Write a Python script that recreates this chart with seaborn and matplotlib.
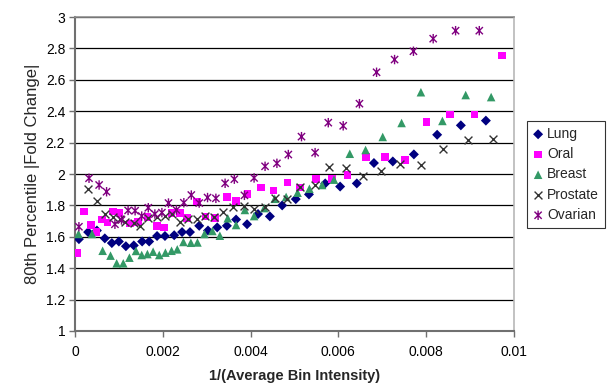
import numpy as np
import pandas as pd
import seaborn as sns
from matplotlib import pyplot as plt
from matplotlib.path import Path

# values (x = 1/(average bin intensity))
lung_x = [0.00009, 0.00030, 0.00050, 0.00068, 0.00084, 0.00100, 0.00116, 0.00134, 0.00153, 0.00169,
          0.00187, 0.00205, 0.00226, 0.00244, 0.00262, 0.00283, 0.00303, 0.00324, 0.00346, 0.00367,
          0.00392, 0.00417, 0.00444, 0.00472, 0.00503, 0.00533, 0.00570, 0.00604, 0.00642, 0.00681,
          0.00724, 0.00772, 0.00825, 0.00879, 0.00936]
lung_y = [1.585, 1.63, 1.64, 1.59, 1.56, 1.57, 1.54, 1.545, 1.57, 1.57,
          1.605, 1.605, 1.61, 1.63, 1.63, 1.67, 1.64, 1.66, 1.67, 1.71,
          1.68, 1.745, 1.73, 1.80, 1.84, 1.87, 1.94, 1.92, 1.94, 2.07,
          2.08, 2.125, 2.25, 2.31, 2.34]

oral_x = [0.00004, 0.00021, 0.00036, 0.00049, 0.00061, 0.00074, 0.00086, 0.00101, 0.00125, 0.00144,
          0.00165, 0.00187, 0.00203, 0.00220, 0.00239, 0.00255, 0.00278, 0.00297, 0.00319, 0.00346,
          0.00367, 0.00393, 0.00424, 0.00452, 0.00484, 0.00513, 0.00549, 0.00585, 0.00621, 0.00663,
          0.00706, 0.00752, 0.00801, 0.00854, 0.00910, 0.00973]
oral_y = [1.495, 1.76, 1.675, 1.632, 1.711, 1.69, 1.76, 1.75, 1.685, 1.696,
          1.728, 1.669, 1.66, 1.75, 1.75, 1.72, 1.824, 1.729, 1.72, 1.852,
          1.828, 1.873, 1.915, 1.894, 1.945, 1.913, 1.968, 1.968, 1.994, 2.11,
          2.11, 2.09, 2.33, 2.38, 2.38, 2.756]

breast_x = [0.00008, 0.00039, 0.00063, 0.00081, 0.00095, 0.00110, 0.00124, 0.00139, 0.00152, 0.00165,
            0.00178, 0.00192, 0.00206, 0.00220, 0.00233, 0.00247, 0.00264, 0.00279, 0.00295, 0.00313,
            0.00330, 0.00348, 0.00367, 0.00387, 0.00408, 0.00431, 0.00455, 0.00481, 0.00507, 0.00534,
            0.00563, 0.00590, 0.00626, 0.00662, 0.00701, 0.00744, 0.00788, 0.00837, 0.00890, 0.00948]
breast_y = [1.618, 1.618, 1.511, 1.48, 1.431, 1.431, 1.467, 1.51, 1.484, 1.49,
            1.505, 1.484, 1.499, 1.511, 1.52, 1.567, 1.562, 1.564, 1.618, 1.637,
            1.607, 1.718, 1.675, 1.771, 1.732, 1.783, 1.842, 1.854, 1.881, 1.906,
            1.93, 1.964, 2.129, 2.153, 2.236, 2.325, 2.521, 2.338, 2.503, 2.49]

prostate_x = [0.00030, 0.00051, 0.00068, 0.00087, 0.00103, 0.00115, 0.00134, 0.00149, 0.00167, 0.00186,
              0.00204, 0.00220, 0.00239, 0.00257, 0.00278, 0.00297, 0.00317, 0.00338, 0.00361, 0.00385,
              0.00408, 0.00432, 0.00456, 0.00483, 0.00513, 0.00547, 0.00579, 0.00617, 0.00655, 0.00696,
              0.00740, 0.00788, 0.00839, 0.00895, 0.00952]
prostate_y = [1.903, 1.83, 1.744, 1.724, 1.711, 1.694, 1.686, 1.666, 1.721, 1.729,
              1.731, 1.745, 1.696, 1.713, 1.712, 1.731, 1.726, 1.76, 1.792, 1.796,
              1.775, 1.792, 1.845, 1.839, 1.917, 1.93, 2.045, 2.04, 1.989, 2.021,
              2.064, 2.059, 2.158, 2.217, 2.222]

ovarian_x = [0.00009, 0.00032, 0.00055, 0.00072, 0.00091, 0.00106, 0.00121, 0.00137, 0.00152, 0.00167,
             0.00182, 0.00198, 0.00213, 0.00231, 0.00248, 0.00265, 0.00283, 0.00302, 0.00321, 0.00342,
             0.00363, 0.00386, 0.00408, 0.00433, 0.00460, 0.00486, 0.00516, 0.00547, 0.00577, 0.00611,
             0.00648, 0.00687, 0.00728, 0.00771, 0.00816, 0.00867, 0.00921]
ovarian_y = [1.664, 1.973, 1.93, 1.887, 1.68, 1.707, 1.768, 1.766, 1.732, 1.785,
             1.745, 1.754, 1.815, 1.771, 1.817, 1.866, 1.815, 1.85, 1.845, 1.941,
             1.967, 1.864, 1.975, 2.049, 2.068, 2.124, 2.238, 2.136, 2.327, 2.307,
             2.448, 2.648, 2.729, 2.782, 2.862, 2.913, 2.913]

x_ticks = [0, 0.002, 0.004, 0.006, 0.008, 0.01]
x_ticklabels = ["0", "0.002", "0.004", "0.006", "0.008", "0.01"]
y_ticks = [1, 1.2, 1.4, 1.6, 1.8, 2, 2.2, 2.4, 2.6, 2.8, 3]
y_ticklabels = ["1", "1.2", "1.4", "1.6", "1.8", "2", "2.2", "2.4", "2.6", "2.8", "3"]

sns.set_style("white")
plt.rcParams['font.family'] = ['Liberation Sans', 'DejaVu Sans']

# excel style star: an x with a vertical stroke
star = Path([(-1, -1), (1, 1), (-1, 1), (1, -1), (0, -1.3), (0, 1.3)],
            [Path.MOVETO, Path.LINETO, Path.MOVETO, Path.LINETO, Path.MOVETO, Path.LINETO])

fig = plt.figure(figsize=(6.11, 3.85), dpi=100)
ax = fig.add_axes([0.1227, 0.1403, 0.7185, 0.8155])

series = [
    ("Lung", lung_x, lung_y, "D", "#000080", 26),
    ("Oral", oral_x, oral_y, "s", "#ff00ff", 30),
    ("Breast", breast_x, breast_y, "^", "#339966", 38),
    ("Prostate", prostate_x, prostate_y, "x", "#333333", 32),
    ("Ovarian", ovarian_x, ovarian_y, star, "#800080", 46),
]

for name, xs, ys, mk, col, sz in series:
    df = pd.DataFrame({"x": xs, "y": ys})
    if mk in ("D", "s", "^"):
        sns.scatterplot(data=df, x="x", y="y", marker=mk, color=col, s=sz,
                        edgecolor="none", linewidth=0, ax=ax, label=name, zorder=3)
    elif mk == "x":
        sns.scatterplot(data=df, x="x", y="y", marker=mk, color=col, s=sz,
                        linewidth=1.0, ax=ax, label=name, zorder=3)
    else:
        sns.scatterplot(data=df, x="x", y="y", marker=mk, facecolor="none", edgecolor=col,
                        s=sz, linewidth=1.0, ax=ax, label=name, zorder=3)

ax.set_xlim(0, 0.01)
ax.set_ylim(1, 3)
ax.set_xticks(x_ticks)
ax.set_xticklabels(x_ticklabels)
ax.set_yticks(y_ticks)
ax.set_yticklabels(y_ticklabels)
ax.yaxis.grid(True, color="black", linewidth=0.9)
ax.xaxis.grid(False)
ax.set_axisbelow(True)

for side in ["left", "bottom"]:
    ax.spines[side].set_color("#707070")
    ax.spines[side].set_linewidth(1.5)
ax.spines["top"].set_color("#909090")
ax.spines["top"].set_linewidth(1.2)
ax.spines["right"].set_color("#b8b8b8")
ax.spines["right"].set_linewidth(1.2)

ax.tick_params(axis="both", direction="out", length=4, width=1, color="#707070",
               labelsize=10, labelcolor="black")
ax.tick_params(axis="x", pad=6, bottom=True)
ax.tick_params(axis="y", pad=3, left=True)

ax.set_xlabel("1/(Average Bin Intensity)", fontsize=10.5, fontweight="bold", labelpad=7)
ax.set_ylabel("80th Percentile |Fold Change|", fontsize=12, labelpad=4)

leg = ax.legend(loc="center left", bbox_to_anchor=(0.8625, 0.547), bbox_transform=fig.transFigure,
                frameon=True, fancybox=False, edgecolor="black", fontsize=10,
                handlelength=0.7, handletextpad=0.3, labelspacing=0.45, borderpad=0.45,
                borderaxespad=0)
leg.get_frame().set_linewidth(0.8)

plt.savefig("out.png", dpi=100)
